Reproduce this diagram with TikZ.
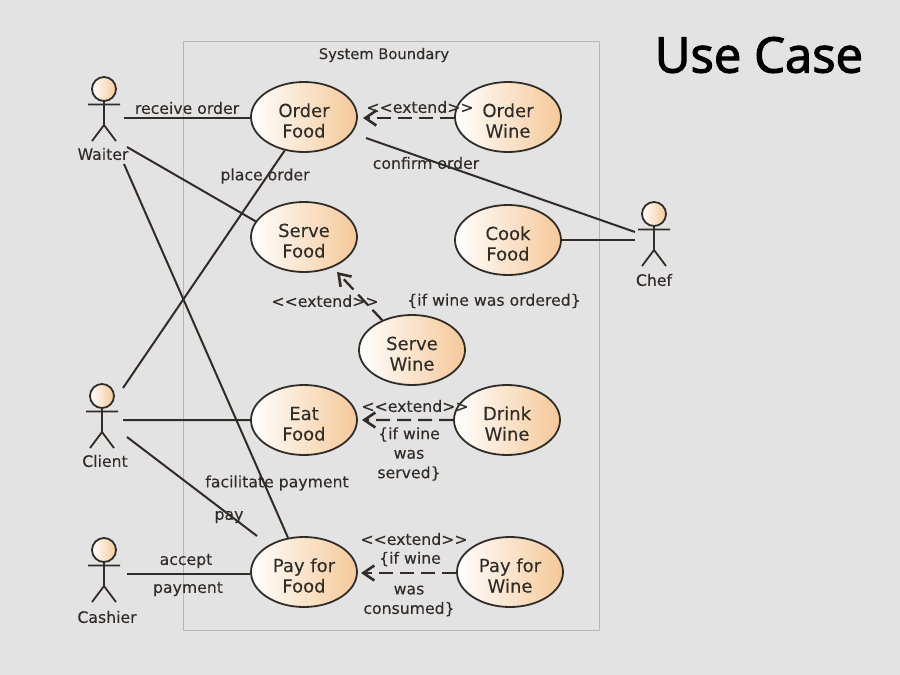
\documentclass[tikz,border=0pt]{standalone}
\usepackage{fontspec}
\setmainfont[FakeBold=0.15]{DejaVu Sans}
\newfontfamily\titlefont[FakeBold=2.4]{Open Sans}
\usetikzlibrary{shapes.geometric, arrows.meta, positioning}

\definecolor{pagegray}{HTML}{E3E3E3}
\definecolor{framegray}{HTML}{B6B6B6}
\definecolor{inkdark}{HTML}{302D29}
\definecolor{casetan}{HTML}{F5C898}

\tikzset{
    usecase/.style={ellipse, draw=inkdark, line width=1.8pt, left color=white, right color=casetan, minimum width=106pt, minimum height=70pt, inner sep=0pt, align=center, text=inkdark, text height=41pt, text depth=0pt, font=\fontsize{18}{20.5}\selectfont},
    assoc/.style={draw=inkdark, line width=2pt},
    extendline/.style={draw=inkdark, line width=2.3pt, dash pattern=on 14pt off 7pt, -{Straight Barb[length=11pt,width=15pt,line width=2.6pt]}},
    tag/.style={text=inkdark, inner sep=0pt, yshift=-1pt, align=center, font=\fontsize{15.7}{19.5}\selectfont},
    actor/.pic={
        \node [circle, draw=inkdark, line width=1.8pt, left color=white, right color=casetan, minimum size=24pt, inner sep=0pt] (-head) at (0,0) {};
        \draw [inkdark, line width=1.8pt] (-head.south) -- (0,36) -- (-12,52) (0,36) -- (12,52) (-16,15.5) -- (16,15.5);
        \node [tag] (-label) at (#1) {\tikzpictext};
    }
}

\begin{document}
\begin{tikzpicture}[x=1pt, y=-1pt]
    \useasboundingbox (0,0) rectangle (900,675);
    \fill [pagegray] (0,0) rectangle (900,675);

    \node [draw=framegray, line width=1.3pt, minimum width=416pt, minimum height=589pt, inner sep=0pt, anchor=north west] (boundary) at (182.5,40.5) {};
    \node [tag, font=\fontsize{14.7}{18}\selectfont] (boundarytext) at (384,54) {System Boundary};
    \node [font=\titlefont\fontsize{49}{52}\selectfont, text=black, inner sep=0pt] (title) at (759,55) {Use Case};

    % use cases
    \node [usecase] (orderfood) at (304,117) {Order\\Food};
    \node [usecase, below=48.2pt of orderfood] (servefood) {Serve\\Food};
    \node [usecase, below=111.2pt of servefood] (eatfood) {Eat\\Food};
    \node [usecase, below=80.2pt of eatfood] (payfood) {Pay for\\Food};
    \node [usecase, right=96.2pt of orderfood] (orderwine) {Order\\Wine};
    \node [usecase, below=51.2pt of orderwine] (cookfood) {Cook\\Food};
    \node [usecase] (servewine) at (412,350) {Serve\\Wine};
    \node [usecase, right=95.2pt of eatfood] (drinkwine) {Drink\\Wine};
    \node [usecase, right=98.2pt of payfood] (paywine) {Pay for\\Wine};

    % actors
    \pic (waiter) at (104,89) [pic text=Waiter] {actor={-1,64}};
    \pic (chef) at (654,214) [pic text=Chef] {actor={0,65}};
    \pic (client) at (102,396) [pic text=Client] {actor={3,64}};
    \pic (cashier) at (104,550) [pic text=Cashier] {actor={3,66}};

    % free ends of the connectors
    \coordinate (waiterout1) at (124,118);
    \coordinate (waiterout2) at (127,147);
    \coordinate (waiterout3) at (124,164);
    \coordinate (clientout1) at (123,388);
    \coordinate (clientout2) at (123,420);
    \coordinate (clientout3) at (127,437);
    \coordinate (cashierout) at (127,574);
    \coordinate (chefout1) at (635,232);
    \coordinate (chefout2) at (635,240);
    \coordinate (orderend) at (366,138);
    \coordinate (payend) at (257,536);
    \coordinate (extendA) at (363,118);
    \coordinate (extendB) at (337,272);
    \coordinate (extendC) at (362,420);
    \coordinate (extendD) at (361,573);

    \path [assoc] (waiterout1) -- (waiterout1 -| orderfood.west);
    \path [assoc] (waiterout2) -- (servefood.162);
    \path [assoc] (waiterout3) -- (payfood.115);
    \path [assoc] (clientout1) -- (orderfood.240);
    \path [assoc] (clientout2) -- (eatfood.west);
    \path [assoc] (clientout3) -- (payend);
    \path [assoc] (cashierout) -- (cashierout -| payfood.west);
    \path [assoc] (chefout1) -- (orderend);
    \path [assoc] (chefout2) -- (chefout2 -| cookfood.east);

    \path [extendline] (extendA -| orderwine.west) -- (extendA);
    \path [extendline] (servewine.135) -- (extendB);
    \path [extendline] (drinkwine.west) -- (extendC);
    \path [extendline] (extendD -| paywine.west) -- (extendD);

    % labels
    \node [tag] (receivetext) at (187,107) {receive order};
    \node [tag] (placetext) at (265,175) {place order};
    \node [tag] (confirmtext) at (426,162) {confirm order};
    \node [tag] (extendtextA) at (420,106) {<{}<extend>{}>};
    \node [tag] (extendtextB) at (325,300) {<{}<extend>{}>};
    \node [tag] (orderedtext) at (494,300) {\{if wine was ordered\}};
    \node [tag] (extendtextC) at (415,405) {<{}<extend>{}>};
    \node [tag] (servedtext) at (409,453) {\{if wine\\was\\served\}};
    \node [tag] (facilitatetext) at (277,482) {facilitate payment};
    \node [tag] (paytext) at (229,516) {pay};
    \node [tag] (accepttext) at (186,560) {accept};
    \node [tag] (paymenttext) at (188,588) {payment};
    \node [tag] (extendtextD) at (414,538) {<{}<extend>{}>};
    \node [tag] (ifwinetext) at (410,558) {\{if wine};
    \node [tag] (consumedtext) at (409,600) {was\\consumed\}};
\end{tikzpicture}
\end{document}
